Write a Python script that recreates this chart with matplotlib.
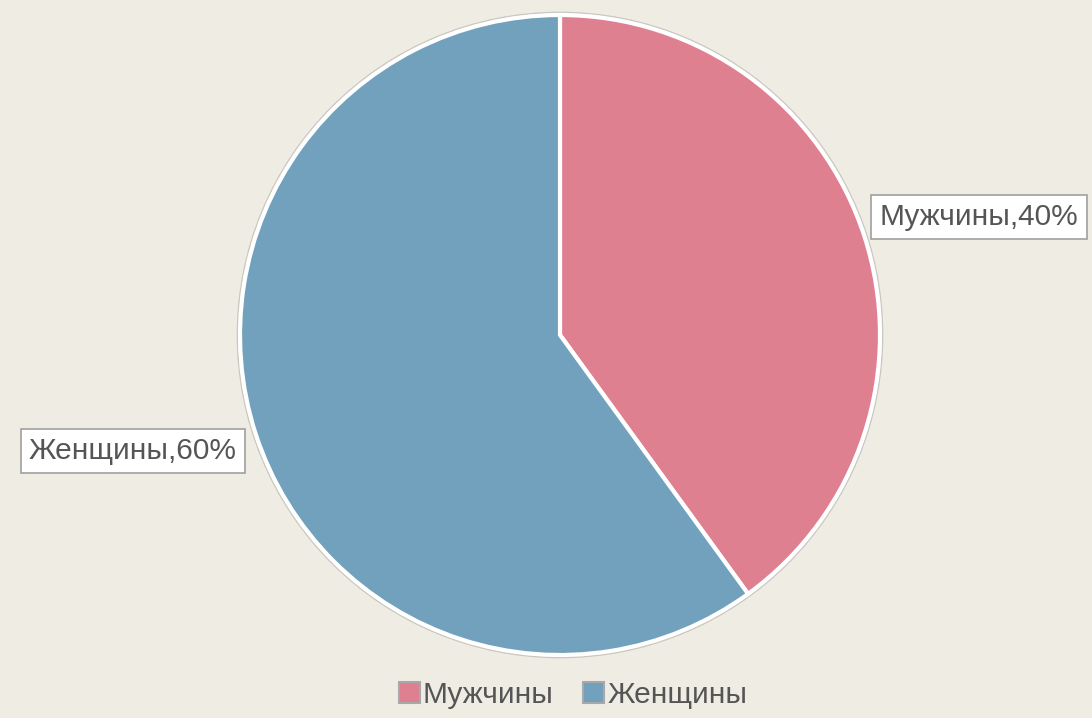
import matplotlib
matplotlib.use("Agg")
import matplotlib.pyplot as plt
from matplotlib.patches import Patch, Circle

labels = ["Мужчины", "Женщины"]
values = [40, 60]
colors = ["#DF8091", "#71A1BD"]
bg = "#EFECE4"

fig = plt.figure(figsize=(10.92, 7.18), dpi=100, facecolor=bg)
ax = fig.add_axes([0, 0, 1, 1])
ax.set_facecolor(bg)

cx, cy, r = 560, 718 - 335, 320
ax.add_patch(Circle((cx, cy), r + 2.5, facecolor="none", edgecolor="#C8C8C0", lw=1.2, zorder=1))
ax.pie(values, colors=colors, startangle=90, counterclock=False, center=(cx, cy), radius=r,
       wedgeprops=dict(edgecolor="white", linewidth=3), frame=True)
ax.set_xlim(0, 1092)
ax.set_ylim(0, 718)
ax.set_aspect("equal")
ax.axis("off")

box = dict(boxstyle="square,pad=0.28", facecolor="white", edgecolor="#A0A0A0", lw=1.2)
ax.text(979, 718 - 217, f"{labels[0]},{values[0]}%", ha="center", va="center",
        fontsize=21.5, color="#555555", bbox=box, family="Liberation Sans")
ax.text(133, 718 - 451, f"{labels[1]},{values[1]}%", ha="center", va="center",
        fontsize=21.5, color="#555555", bbox=box, family="Liberation Sans")

handles = [Patch(facecolor=c, edgecolor="#A8A8A8", lw=1.5) for c in colors]
fig.legend(handles, labels, loc="center", bbox_to_anchor=(573 / 1092, 1 - 695 / 718), ncol=2,
           frameon=False, handlelength=0.7, handleheight=0.7, handletextpad=0.1, columnspacing=1.0,
           prop=dict(family="Liberation Sans", size=21.5), labelcolor="#555555")

fig.savefig("out.png", dpi=100, facecolor=bg)
